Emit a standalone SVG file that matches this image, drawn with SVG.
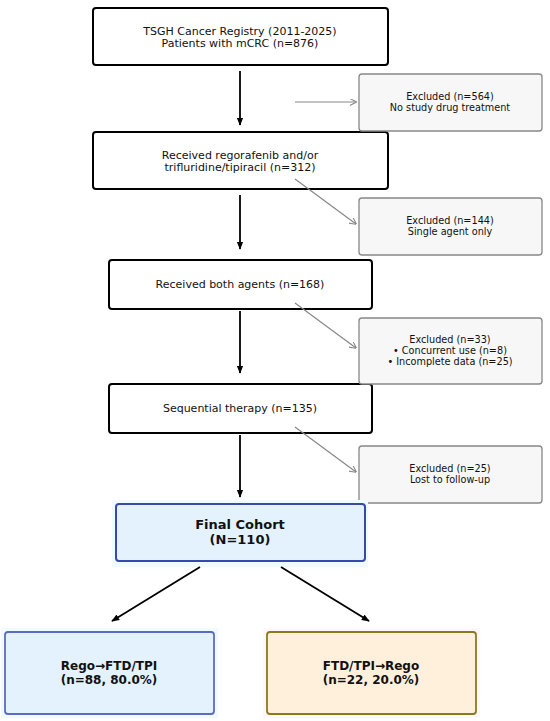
<svg xmlns="http://www.w3.org/2000/svg" width="550" height="721" viewBox="0 0 550 721">
<defs>
<marker id="ab" viewBox="0 0 10 10" refX="9" refY="5" markerWidth="8" markerHeight="8" orient="auto" markerUnits="userSpaceOnUse"><path d="M0,1 L10,5 L0,9 Z" fill="#000"/></marker>
<marker id="ag" viewBox="0 0 10 10" refX="9" refY="5" markerWidth="7" markerHeight="7" orient="auto" markerUnits="userSpaceOnUse"><path d="M0,0 L10,5 L0,10" fill="none" stroke="#888" stroke-width="1.5"/></marker>
<style>
text{font-family:"DejaVu Sans",sans-serif;text-anchor:middle;fill:#111}
.main{fill:#fff;stroke:#000;stroke-width:2}
.exc{fill:#f7f7f7;stroke:#888;stroke-width:1.3}
.t11{font-size:11px}
.t10{font-size:9.7px}
.b{font-weight:bold;font-size:13px}
.bl{font-weight:bold;font-size:12px}
.ka{stroke:#000;stroke-width:1.8;fill:none;marker-end:url(#ab)}
.ga{stroke:#888;stroke-width:1.2;fill:none;marker-end:url(#ag)}
</style>
</defs>
<g id="n1"><rect class="main" x="93" y="8" width="295" height="57" rx="3"/><text class="t11" x="240" y="35">TSGH Cancer Registry (2011-2025)</text><text class="t11" x="240" y="47">Patients with mCRC (n=876)</text></g>
<g id="n2"><rect class="main" x="93" y="132" width="295" height="57" rx="3"/><text class="t11" x="240" y="159">Received regorafenib and/or</text><text class="t11" x="240" y="171">trifluridine/tipiracil (n=312)</text></g>
<g id="n3"><rect class="main" x="109" y="260" width="263" height="49" rx="3"/><text class="t11" x="240" y="288">Received both agents (n=168)</text></g>
<g id="n4"><rect class="main" x="109" y="384" width="263" height="49" rx="3"/><text class="t11" x="240" y="412">Sequential therapy (n=135)</text></g>
<g id="e1"><rect class="exc" x="359" y="74" width="183" height="57" rx="3"/><text class="t10" x="450" y="100">Excluded (n=564)</text><text class="t10" x="450" y="111">No study drug treatment</text></g>
<g id="e2"><rect class="exc" x="359" y="198" width="183" height="57" rx="3"/><text class="t10" x="450" y="224">Excluded (n=144)</text><text class="t10" x="450" y="235">Single agent only</text></g>
<g id="e3"><rect class="exc" x="359" y="318" width="183" height="66" rx="3"/><text class="t10" x="450" y="343">Excluded (n=33)</text><text class="t10" x="450" y="354">• Concurrent use (n=8)</text><text class="t10" x="450" y="365">• Incomplete data (n=25)</text></g>
<g id="e4"><rect class="exc" x="359" y="446" width="183" height="57" rx="3"/><text class="t10" x="450" y="472">Excluded (n=25)</text><text class="t10" x="450" y="483">Lost to follow-up</text></g>
<g id="final"><rect x="112" y="500" width="256" height="67" fill="#f0fbff"/><rect x="116" y="504" width="249" height="57" rx="3" fill="#e3f2fd" stroke="#3949ab" stroke-width="2"/><text class="b" x="240" y="529">Final Cohort</text><text class="b" x="240" y="544">(N=110)</text></g>
<g id="left"><rect x="1" y="628" width="217" height="90" fill="#f0fbff"/><rect x="5" y="632" width="209" height="82" rx="3" fill="#e3f2fd" stroke="#5c6bc0" stroke-width="1.8"/><text class="bl" x="109" y="670">Rego→FTD/TPI</text><text class="bl" x="109" y="684">(n=88, 80.0%)</text></g>
<g id="right"><rect x="263" y="628" width="217" height="90" fill="#fff7fb"/><rect x="267" y="632" width="209" height="82" rx="3" fill="#fff0dc" stroke="#8b7a1a" stroke-width="1.8"/><text class="bl" x="371" y="670">FTD/TPI→Rego</text><text class="bl" x="371" y="684">(n=22, 20.0%)</text></g>
<g id="connectors">
<line class="ka" x1="240" y1="71" x2="240" y2="125"/>
<line class="ka" x1="240" y1="195" x2="240" y2="249"/>
<line class="ka" x1="240" y1="311" x2="240" y2="373"/>
<line class="ka" x1="240" y1="435" x2="240" y2="497"/>
<line class="ga" x1="295" y1="102" x2="356" y2="102"/>
<line class="ga" x1="295" y1="179" x2="356" y2="224"/>
<line class="ga" x1="295" y1="303" x2="356" y2="348"/>
<line class="ga" x1="295" y1="427" x2="356" y2="472"/>
<line class="ka" x1="200" y1="567" x2="112" y2="621"/>
<line class="ka" x1="281" y1="567" x2="369" y2="621"/>
</g>
</svg>
